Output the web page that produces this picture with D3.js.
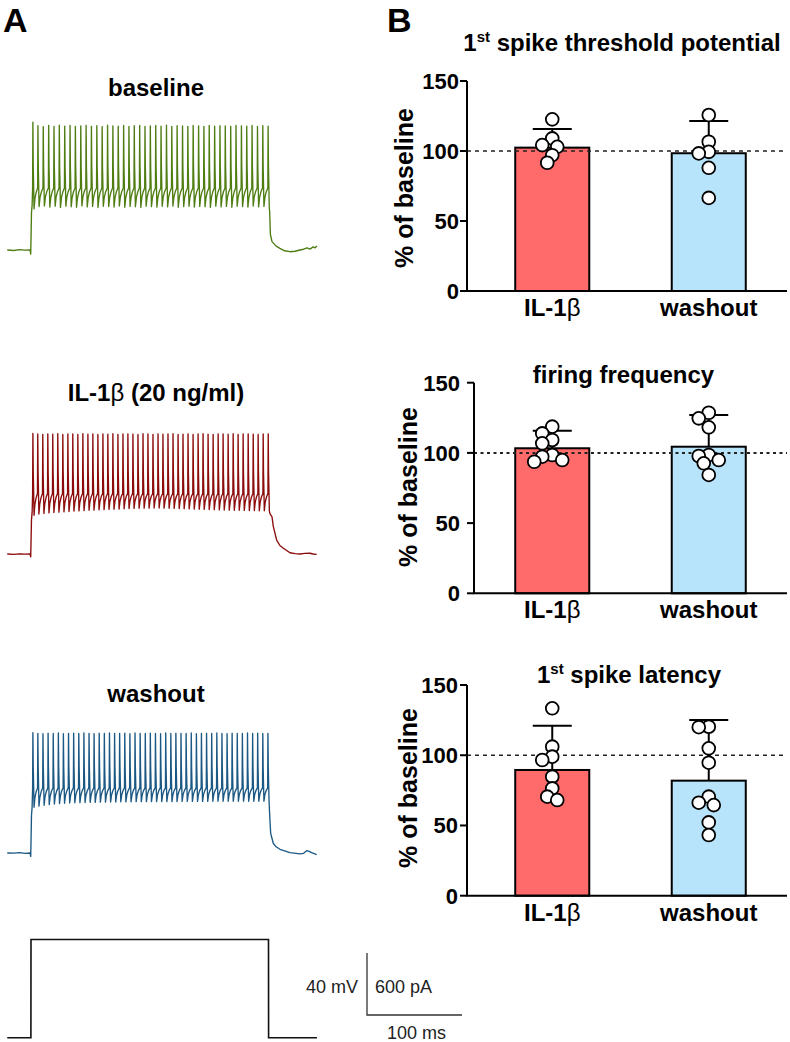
<!DOCTYPE html>
<html><head><meta charset="utf-8">
<script src="https://cdn.jsdelivr.net/npm/d3@7"></script>
<style>
body{margin:0;background:#fff}
svg{display:block}
text{font-family:"Liberation Sans",Arial,Helvetica,sans-serif}
</style>
</head><body>
<svg id="c" width="790" height="1042"></svg>
<script>
// ---------------- DATA ----------------
const categories = ["IL-1β", "washout"];
const yTicks = [0, 50, 100, 150];
const refLine = 100;

// 1st spike threshold potential (% of baseline)
const thrMean = [102.4, 98.4];
const thrSD = [13.3, 23.0];
const thrIL = [122.6, 109.0, 104.2, 103.0, 97.0, 91.6];
const thrWO = [125.7, 106.6, 99.4, 98.3, 88.0, 66.5];

// firing frequency
const freqMean = [103.3, 104.4];
const freqSD = [12.5, 22.6];
const freqIL = [118.7, 113.9, 109.2, 106.8, 98.5, 97.3, 94.9, 93.7];
const freqWO = [128.6, 124.6, 118.2, 98.5, 97.8, 94.9, 92.6, 84.3];

// 1st spike latency
const latMean = [89.5, 81.9];
const latSD = [31.5, 43.1];
const latIL = [133.4, 106.1, 99.0, 96.6, 84.7, 76.4, 70.5, 68.1];
const latWO = [120.3, 120.0, 104.9, 94.7, 70.5, 66.2, 64.5, 52.2, 43.2];

// ---- traces (time in ms from step onset, voltage in mV) ----
const traceNames = ["baseline", "IL-1β (20 ng/ml)", "washout"];

const basePre = [[-25,-70],[-18,-70.3],[-12,-69.8],[-6,-70.1],[-1,-70],[-0.3,-72.6],[0.1,-60],[0.5,-46],[1.2,-41]];
const baseTimes = [2.0,7.3,12.9,18.6,24.2,29.8,35.5,41.1,46.7,52.4,58.0,63.6,69.3,74.9,80.6,86.2,91.8,97.5,103.1,108.7,114.4,120.0,125.6,131.3,136.9,142.6,148.2,153.8,159.5,165.1,170.7,176.4,182.0,187.6,193.3,198.9,204.5,210.2,215.8,221.5,227.1,232.7,238.4,244.0,249.6];
const basePeaks = [12.5,10.2,9.6,10.4,9.8,10.5,9.9,10.3,9.7,10.1,10.4,9.8,10.2,9.6,10.5,10.0,9.9,10.3,9.7,10.2,10.4,9.8,10.1,10.3,9.9,10.5,9.7,10.2,10.0,9.8,10.4,10.1,9.7,10.3,9.9,10.2,10.0,9.8,10.4,10.1,9.9,10.3,9.7,10.2,9.9];
const baseTroughs = [-43.5,-42.0,-41.6,-42.3,-41.8,-42.5,-41.7,-42.1,-42.4,-41.5,-42.2,-41.9,-42.6,-41.8,-42.0,-42.3,-41.6,-42.4,-41.9,-42.1,-42.5,-41.7,-42.0,-42.3,-41.8,-42.2,-41.6,-42.4,-42.0,-41.8,-42.3,-41.9,-42.1,-42.5,-41.7,-42.2,-41.9,-42.4,-41.8,-42.0,-42.3,-41.6,-42.2,-41.9,-42.4];
const baseThreshold = -30;
const basePost = [[251.2,-45],[252,-60],[253.7,-64.6],[258,-67.5],[262,-69],[267,-70.5],[272.6,-71.1],[278,-70.8],[283,-70],[287,-69.5],[290.5,-68.7],[293.7,-69.4],[297,-68],[299,-68.6],[301,-67.4]];

const ilPre = [[-25,-70],[-18,-70.2],[-12,-69.9],[-6,-70.1],[-1,-70],[-0.3,-71.8],[0.1,-60],[0.5,-48],[1.2,-43]];
const ilTimes = [2.0,7.1,12.4,17.7,22.9,28.2,33.5,38.8,44.0,49.3,54.6,59.9,65.1,70.4,75.7,80.9,86.2,91.5,96.8,102.0,107.3,112.6,117.9,123.1,128.4,133.7,138.9,144.2,149.5,154.8,160.0,165.3,170.6,175.9,181.1,186.4,191.7,197.0,202.2,207.5,212.8,218.0,223.3,228.6,233.9,239.1,244.4,249.7];
const ilPeaks = [7.8,7.4,7.2,7.5,7.3,7.6,7.1,7.4,7.5,7.2,7.6,7.3,7.4,7.1,7.5,7.3,7.6,7.2,7.4,7.5,7.3,7.1,7.6,7.4,7.2,7.5,7.3,7.4,7.6,7.2,7.3,7.5,7.1,7.4,7.6,7.3,7.2,7.5,7.4,7.3,7.6,7.2,7.4,7.5,7.3,7.1,7.4,7.5];
const ilTroughs = [-45.0,-44.2,-43.8,-43.5,-43.2,-43.0,-42.8,-42.6,-42.3,-42.2,-42.0,-41.8,-41.7,-41.5,-41.4,-41.2,-41.1,-41.0,-40.8,-40.7,-40.6,-40.5,-40.4,-40.4,-40.3,-40.3,-40.4,-40.5,-40.6,-40.7,-40.8,-40.9,-41.0,-41.1,-41.2,-41.3,-41.4,-41.5,-41.6,-41.7,-41.8,-41.8,-41.9,-42.0,-42.0,-42.1,-42.1,-42.2];
const ilThreshold = -31;
const ilPost = [[251.5,-44],[253.7,-46],[255,-52],[258.6,-61],[262,-64.5],[265.3,-66.1],[272.6,-69.2],[278,-69.8],[283.2,-70],[288,-69.6],[293.7,-69.5],[297,-70],[300.7,-70.2]];

const woPre = [[-25,-70],[-18,-70.1],[-12,-69.8],[-6,-70.2],[-1,-70],[-0.3,-72.2],[0.1,-60],[0.5,-46],[1.2,-40]];
const woTimes = [2.0,7.2,12.6,18.0,23.4,28.8,34.1,39.5,44.9,50.3,55.7,61.1,66.4,71.8,77.2,82.6,88.0,93.3,98.7,104.1,109.5,114.9,120.3,125.6,131.0,136.4,141.8,147.2,152.5,157.9,163.3,168.7,174.1,179.4,184.8,190.2,195.6,201.0,206.4,211.7,217.1,222.5,227.9,233.3,238.6,244.0,249.4];
const woPeaks = [7.6,7.2,7.0,7.3,7.1,7.4,7.0,7.2,7.3,7.1,7.4,7.2,7.0,7.3,7.2,7.4,7.1,7.2,7.3,7.0,7.4,7.2,7.1,7.3,7.2,7.0,7.4,7.1,7.3,7.2,7.1,7.4,7.0,7.2,7.3,7.1,7.4,7.2,7.0,7.3,7.2,7.1,7.4,7.2,7.3,7.1,7.2];
const woTroughs = [-40.5,-39.8,-39.2,-38.8,-38.4,-38.1,-37.9,-37.7,-37.6,-37.5,-37.4,-37.3,-37.3,-37.2,-37.2,-37.1,-37.1,-37.0,-37.0,-37.0,-36.9,-36.9,-36.9,-36.9,-36.8,-36.8,-36.8,-36.8,-36.8,-36.7,-36.7,-36.7,-36.7,-36.7,-36.7,-36.6,-36.6,-36.6,-36.6,-36.6,-36.6,-36.6,-36.6,-36.6,-36.6,-36.6,-36.6];
const woThreshold = -28;
const woPost = [[251.2,-45],[252.3,-57.3],[255,-63.7],[258,-66],[262.1,-67.6],[272.6,-69.8],[283.2,-70.6],[287,-70.2],[290.2,-68.5],[292.5,-69],[295.5,-69.8],[300.7,-71.1]];

// current step (pA)
const stepCurrent = [[-25,0],[-0.1,0],[0,950],[250,950],[250.1,0],[301,0]];

// scale bar values
const scaleMV = 40, scalePA = 600, scaleMS = 100;

// ---------------- DRAW ----------------
const svg = d3.select("#c");

// panel letters
svg.append("text").attr("x", 3).attr("y", 32).attr("font-size", 34).attr("font-weight", "bold").text("A");
svg.append("text").attr("x", 387).attr("y", 32).attr("font-size", 34).attr("font-weight", "bold").text("B");

// ---- Panel A traces ----
const tScale = d3.scaleLinear().domain([0, scaleMS]).range([31, 31 + 95]);
const pxPerMV = 62 / scaleMV;

function buildTrace(pre, times, peaks, troughs, thr, post) {
  const pts = pre.slice();
  times.forEach((t, i) => {
    const pk = peaks[i] ?? peaks[peaks.length - 1];
    const tr = troughs[i] ?? troughs[troughs.length - 1];
    pts.push([t - 0.3, thr]);
    pts.push([t, pk]);
    pts.push([t + 0.35, thr + 14]);
    pts.push([t + 0.7, thr + 4]);
    pts.push([t + 1.2, tr]);
    if (i < times.length - 1) {
      const gap = times[i + 1] - t - 1.5;
      pts.push([t + 1.2 + 0.25 * gap, tr + 0.5 * (thr - tr)]);
      pts.push([t + 1.2 + 0.6 * gap, tr + 0.8 * (thr - tr)]);
    }
  });
  return pts.concat(post);
}

const traces = [
  {name: traceNames[0], pts: buildTrace(basePre, baseTimes, basePeaks, baseTroughs, baseThreshold, basePost), rest: 250, color: "#4e7d12", titleY: 96},
  {name: traceNames[1], pts: buildTrace(ilPre, ilTimes, ilPeaks, ilTroughs, ilThreshold, ilPost), rest: 554, color: "#8c0b0b", titleY: 401},
  {name: traceNames[2], pts: buildTrace(woPre, woTimes, woPeaks, woTroughs, woThreshold, woPost), rest: 853, color: "#1c5884", titleY: 702}
];

traces.forEach(tr => {
  const vScale = d3.scaleLinear().domain([-70, 0]).range([tr.rest, tr.rest - 70 * pxPerMV]);
  const line = d3.line().x(d => tScale(d[0])).y(d => vScale(d[1]));
  svg.append("path").attr("d", line(tr.pts)).attr("fill", "none")
    .attr("stroke", tr.color).attr("stroke-width", 1.35).attr("stroke-linejoin", "round");
  const t = svg.append("text").attr("x", 156).attr("y", tr.titleY).attr("text-anchor", "middle")
    .attr("font-size", 24).attr("font-weight", "bold");
  if (tr.name.includes("β")) {
    const parts = tr.name.split("β");
    t.append("tspan").text(parts[0]);
    t.append("tspan").attr("font-weight", "normal").text("β");
    t.append("tspan").text(parts[1]);
  } else t.text(tr.name);
});

// current step
const iScale = d3.scaleLinear().domain([0, scalePA]).range([1037.7, 1037.7 - 62]);
svg.append("path").attr("d", d3.line().x(d => tScale(d[0])).y(d => iScale(d[1]))(stepCurrent))
  .attr("fill", "none").attr("stroke", "#111").attr("stroke-width", 1.6);

// scale bar
const sbX = 367, sbY = 1015;
const sbV = scaleMV * pxPerMV, sbH = tScale(scaleMS) - tScale(0);
svg.append("path").attr("d", `M${sbX},${sbY - sbV}V${sbY}H${sbX + sbH}`)
  .attr("fill", "none").attr("stroke", "#333").attr("stroke-width", 1.3);
svg.append("text").attr("x", sbX - 9).attr("y", 993).attr("text-anchor", "end").attr("font-size", 18).attr("fill", "#222").text(scaleMV + " mV");
svg.append("text").attr("x", sbX + 8).attr("y", 993).attr("font-size", 18).attr("fill", "#222").text(scalePA + " pA");
svg.append("text").attr("x", sbX + sbH / 2 + 2).attr("y", 1039).attr("text-anchor", "middle").attr("font-size", 18).attr("fill", "#222").text(scaleMS + " ms");

// ---- Panel B bar charts ----
const barColors = ["#ff6a6a", "#b7e4fa"];
const panels = [
  {title: ["1", "st", " spike threshold potential"], mean: thrMean, sd: thrSD, pts: [thrIL, thrWO],
   axisX: 467, y0: 291, y150: 81, titleX: 622, titleY: 51, ylabX: 413, ylabY: 188, tickLabX: 459, dash: "4,4", dashW: 1.3},
  {title: ["", "", "firing frequency"], mean: freqMean, sd: freqSD, pts: [freqIL, freqWO],
   axisX: 474, y0: 593.3, y150: 382.7, titleX: 623.5, titleY: 383, ylabX: 416.5, ylabY: 487, tickLabX: 460, dash: "3,3.5", dashW: 2},
  {title: ["1", "st", " spike latency"], mean: latMean, sd: latSD, pts: [latIL, latWO],
   axisX: 467, y0: 895.7, y150: 685, titleX: 629, titleY: 683, ylabX: 416.5, ylabY: 788, tickLabX: 458, dash: "4,4", dashW: 1.3}
];

const xScale = d3.scaleBand().domain(categories).range([474, 787]).paddingInner(0.527).paddingOuter(0.2635);

function dodge(vals, yS, cx) {
  const placed = [];
  const offs = [0, -5, 5, -10, 10, -14, 14, -18, 18];
  return vals.map(v => {
    const y = yS(v);
    let x = cx;
    for (const o of offs) {
      if (placed.every(p => Math.hypot(p.x - (cx + o), p.y - y) >= 8.5)) { x = cx + o; break; }
    }
    placed.push({x, y});
    return {x, y};
  });
}

panels.forEach(p => {
  const g = svg.append("g");
  const yS = d3.scaleLinear().domain([0, 150]).range([p.y0, p.y150]);

  // bars
  g.selectAll("rect.bar").data(categories).enter().append("rect")
    .attr("x", d => xScale(d)).attr("width", xScale.bandwidth())
    .attr("y", (d, i) => yS(p.mean[i])).attr("height", (d, i) => p.y0 - yS(p.mean[i]))
    .attr("fill", (d, i) => barColors[i]).attr("stroke", "#000").attr("stroke-width", 2);

  // reference line
  g.append("line").attr("x1", p.axisX).attr("x2", 787).attr("y1", yS(refLine)).attr("y2", yS(refLine))
    .attr("stroke", "#222").attr("stroke-width", p.dashW).attr("stroke-dasharray", p.dash);

  // error bars (mean + SD)
  categories.forEach((c, i) => {
    const cx = xScale(c) + xScale.bandwidth() / 2;
    const yt = yS(p.mean[i] + p.sd[i]);
    g.append("line").attr("x1", cx).attr("x2", cx).attr("y1", yS(p.mean[i])).attr("y2", yt)
      .attr("stroke", "#000").attr("stroke-width", 2);
    g.append("line").attr("x1", cx - 19.5).attr("x2", cx + 19.5).attr("y1", yt).attr("y2", yt)
      .attr("stroke", "#000").attr("stroke-width", 2);
  });

  // points
  categories.forEach((c, i) => {
    const cx = xScale(c) + xScale.bandwidth() / 2;
    const pos = dodge(p.pts[i], yS, cx);
    g.selectAll(null).data(pos).enter().append("circle")
      .attr("cx", d => d.x).attr("cy", d => d.y).attr("r", 6.4)
      .attr("fill", "#fff").attr("stroke", "#000").attr("stroke-width", 1.8);
  });

  // y axis
  g.append("line").attr("x1", p.axisX).attr("x2", p.axisX).attr("y1", p.y150).attr("y2", p.y0)
    .attr("stroke", "#000").attr("stroke-width", 2);
  g.selectAll("line.tk").data(yTicks).enter().append("line")
    .attr("x1", p.axisX - 7).attr("x2", p.axisX).attr("y1", d => yS(d)).attr("y2", d => yS(d))
    .attr("stroke", "#000").attr("stroke-width", 2);
  g.selectAll("text.tl").data(yTicks).enter().append("text")
    .attr("x", p.tickLabX).attr("y", d => yS(d)).attr("dy", "0.36em").attr("text-anchor", "end")
    .attr("font-size", 22).attr("font-weight", "bold").text(d => d);
  // x axis
  g.append("line").attr("x1", p.axisX - 1).attr("x2", 787).attr("y1", p.y0).attr("y2", p.y0)
    .attr("stroke", "#000").attr("stroke-width", 2);
  // category labels
  categories.forEach(c => {
    const t = g.append("text").attr("x", xScale(c) + xScale.bandwidth() / 2).attr("y", p.y0 + 25)
      .attr("text-anchor", "middle").attr("font-size", 24).attr("font-weight", "bold");
    if (c.includes("β")) {
      const parts = c.split("β");
      t.append("tspan").text(parts[0]);
      t.append("tspan").attr("font-weight", "normal").text("β");
    } else t.text(c);
  });

  // y label
  g.append("text").attr("transform", `translate(${p.ylabX},${p.ylabY}) rotate(-90)`)
    .attr("text-anchor", "middle").attr("font-size", 25).attr("font-weight", "bold").text("% of baseline");

  // title
  const tt = g.append("text").attr("x", p.titleX).attr("y", p.titleY).attr("text-anchor", "middle")
    .attr("font-size", 24).attr("font-weight", "bold");
  if (p.title[1]) {
    tt.append("tspan").text(p.title[0]);
    tt.append("tspan").attr("font-size", 15).attr("dy", -9).text(p.title[1]);
    tt.append("tspan").attr("dy", 9).text(p.title[2]);
  } else tt.text(p.title[2]);
});
</script>
</body></html>
